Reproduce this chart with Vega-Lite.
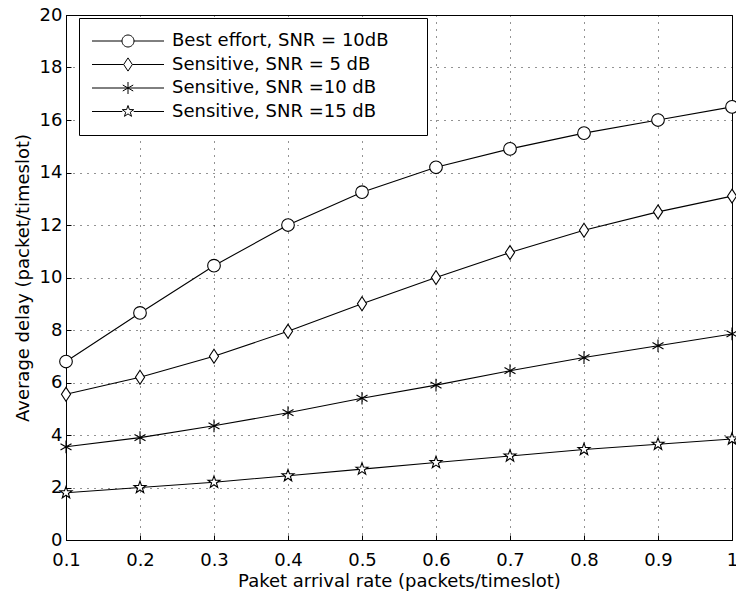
{
  "$schema": "https://vega.github.io/schema/vega-lite/v6.json",
  "width": 666,
  "height": 525,
  "autosize": "none",
  "padding": {"left": 66, "top": 15, "right": 4, "bottom": 53},
  "background": "white",
  "config": {
    "font": "DejaVu Sans",
    "view": {"stroke": "black", "strokeWidth": 1},
    "axis": {
      "labelFont": "DejaVu Sans", "titleFont": "DejaVu Sans",
      "labelFontSize": 18, "titleFontSize": 18, "labelColor": "black", "titleColor": "black",
      "titleFontWeight": "normal", "domainColor": "black", "tickColor": "black",
      "gridColor": "black", "gridDash": [1, 6], "gridOpacity": 0.85, "gridWidth": 1,
      "tickSize": -5
    }
  },
  "data": {
    "values": [
      {"rate": 0.1, "delay": 6.8, "series": "Best effort, SNR = 10dB"},
      {"rate": 0.2, "delay": 8.65, "series": "Best effort, SNR = 10dB"},
      {"rate": 0.3, "delay": 10.45, "series": "Best effort, SNR = 10dB"},
      {"rate": 0.4, "delay": 12.0, "series": "Best effort, SNR = 10dB"},
      {"rate": 0.5, "delay": 13.25, "series": "Best effort, SNR = 10dB"},
      {"rate": 0.6, "delay": 14.2, "series": "Best effort, SNR = 10dB"},
      {"rate": 0.7, "delay": 14.9, "series": "Best effort, SNR = 10dB"},
      {"rate": 0.8, "delay": 15.5, "series": "Best effort, SNR = 10dB"},
      {"rate": 0.9, "delay": 16.0, "series": "Best effort, SNR = 10dB"},
      {"rate": 1.0, "delay": 16.5, "series": "Best effort, SNR = 10dB"},
      {"rate": 0.1, "delay": 5.55, "series": "Sensitive, SNR = 5 dB"},
      {"rate": 0.2, "delay": 6.2, "series": "Sensitive, SNR = 5 dB"},
      {"rate": 0.3, "delay": 7.0, "series": "Sensitive, SNR = 5 dB"},
      {"rate": 0.4, "delay": 7.95, "series": "Sensitive, SNR = 5 dB"},
      {"rate": 0.5, "delay": 9.0, "series": "Sensitive, SNR = 5 dB"},
      {"rate": 0.6, "delay": 10.0, "series": "Sensitive, SNR = 5 dB"},
      {"rate": 0.7, "delay": 10.95, "series": "Sensitive, SNR = 5 dB"},
      {"rate": 0.8, "delay": 11.8, "series": "Sensitive, SNR = 5 dB"},
      {"rate": 0.9, "delay": 12.5, "series": "Sensitive, SNR = 5 dB"},
      {"rate": 1.0, "delay": 13.1, "series": "Sensitive, SNR = 5 dB"},
      {"rate": 0.1, "delay": 3.55, "series": "Sensitive, SNR =10 dB"},
      {"rate": 0.2, "delay": 3.9, "series": "Sensitive, SNR =10 dB"},
      {"rate": 0.3, "delay": 4.35, "series": "Sensitive, SNR =10 dB"},
      {"rate": 0.4, "delay": 4.85, "series": "Sensitive, SNR =10 dB"},
      {"rate": 0.5, "delay": 5.4, "series": "Sensitive, SNR =10 dB"},
      {"rate": 0.6, "delay": 5.9, "series": "Sensitive, SNR =10 dB"},
      {"rate": 0.7, "delay": 6.45, "series": "Sensitive, SNR =10 dB"},
      {"rate": 0.8, "delay": 6.95, "series": "Sensitive, SNR =10 dB"},
      {"rate": 0.9, "delay": 7.4, "series": "Sensitive, SNR =10 dB"},
      {"rate": 1.0, "delay": 7.85, "series": "Sensitive, SNR =10 dB"},
      {"rate": 0.1, "delay": 1.8, "series": "Sensitive, SNR =15 dB"},
      {"rate": 0.2, "delay": 2.0, "series": "Sensitive, SNR =15 dB"},
      {"rate": 0.3, "delay": 2.2, "series": "Sensitive, SNR =15 dB"},
      {"rate": 0.4, "delay": 2.45, "series": "Sensitive, SNR =15 dB"},
      {"rate": 0.5, "delay": 2.7, "series": "Sensitive, SNR =15 dB"},
      {"rate": 0.6, "delay": 2.95, "series": "Sensitive, SNR =15 dB"},
      {"rate": 0.7, "delay": 3.2, "series": "Sensitive, SNR =15 dB"},
      {"rate": 0.8, "delay": 3.45, "series": "Sensitive, SNR =15 dB"},
      {"rate": 0.9, "delay": 3.65, "series": "Sensitive, SNR =15 dB"},
      {"rate": 1.0, "delay": 3.85, "series": "Sensitive, SNR =15 dB"}
    ]
  },
  "encoding": {
    "x": {
      "field": "rate", "type": "quantitative",
      "scale": {"domain": [0.1, 1], "nice": false, "zero": false},
      "axis": {"values": [0.1, 0.2, 0.3, 0.4, 0.5, 0.6, 0.7, 0.8, 0.9, 1], "format": "~g",
               "title": "Paket arrival rate (packets/timeslot)", "labelPadding": 16, "titlePadding": 3, "labelFlush": false}
    },
    "y": {
      "field": "delay", "type": "quantitative",
      "scale": {"domain": [0, 20], "nice": false},
      "axis": {"values": [0, 2, 4, 6, 8, 10, 12, 14, 16, 18, 20],
               "title": "Average delay (packet/timeslot)", "labelPadding": 9, "titlePadding": 7, "labelFlush": false}
    }
  },
  "layer": [
    {
      "mark": {"type": "line", "color": "black", "strokeWidth": 1.1},
      "encoding": {"detail": {"field": "series"}}
    },
    {
      "mark": {"type": "point", "filled": false, "fill": "white", "fillOpacity": 1, "stroke": "black", "strokeWidth": 1.1, "opacity": 1},
      "encoding": {
        "shape": {
          "field": "series", "type": "nominal", "legend": null,
          "scale": {
            "domain": ["Best effort, SNR = 10dB", "Sensitive, SNR = 5 dB", "Sensitive, SNR =10 dB", "Sensitive, SNR =15 dB"],
            "range": [
              "M-1,0A1,1 0 1,0 1,0A1,1 0 1,0 -1,0Z",
              "M0,-1.1L0.72,0L0,1.1L-0.72,0Z",
              "M0,-1V1M-0.87,-0.5L0.87,0.5M-0.87,0.5L0.87,-0.5",
              "M0,-1L0.235,-0.324L0.951,-0.309L0.38,0.124L0.588,0.809L0,0.4L-0.588,0.809L-0.38,0.124L-0.951,-0.309L-0.235,-0.324Z"
            ]
          }
        },
        "size": {"value": 160}
      }
    },
    {
      "mark": {"type": "point", "filled": false, "opacity": 0},
      "encoding": {
        "shape": {
          "field": "series", "type": "nominal",
          "scale": {
            "domain": ["Best effort, SNR = 10dB", "Sensitive, SNR = 5 dB", "Sensitive, SNR =10 dB", "Sensitive, SNR =15 dB"],
            "range": [
              "M-6,0H-1M1,0H6M-1,0A1,1 0 1,0 1,0A1,1 0 1,0 -1,0Z",
              "M-6,0H-0.72M0.72,0H6M0,-1.1L0.72,0L0,1.1L-0.72,0Z",
              "M-6,0H6M0,-1V1M-0.87,-0.5L0.87,0.5M-0.87,0.5L0.87,-0.5",
              "M-6,0H-0.95M0.95,0H6M0,-1L0.235,-0.324L0.951,-0.309L0.38,0.124L0.588,0.809L0,0.4L-0.588,0.809L-0.38,0.124L-0.951,-0.309L-0.235,-0.324Z"
            ]
          },
          "legend": {
            "title": "\u00a0", "titleOrient": "right", "titlePadding": 24, "titleFontSize": 18,
            "orient": "none", "legendX": 13, "legendY": 3,
            "symbolSize": 144, "symbolOffset": 26, "labelOffset": 35, "labelFontSize": 18, "labelFont": "DejaVu Sans",
            "labelColor": "black", "rowPadding": 5.5, "padding": 14,
            "strokeColor": "black", "fillColor": "white", "cornerRadius": 0,
            "symbolStrokeColor": "black", "symbolFillColor": "white", "symbolStrokeWidth": 1,
            "labelLimit": 400,
            "encode": {"symbols": {"update": {"opacity": {"value": 1}, "stroke": {"value": "black"}, "fill": {"value": "white"}, "fillOpacity": {"value": 1}, "strokeWidth": {"value": 1}}}}
          }
        }
      }
    }
  ],
  "resolve": {"scale": {"shape": "independent"}}
}
